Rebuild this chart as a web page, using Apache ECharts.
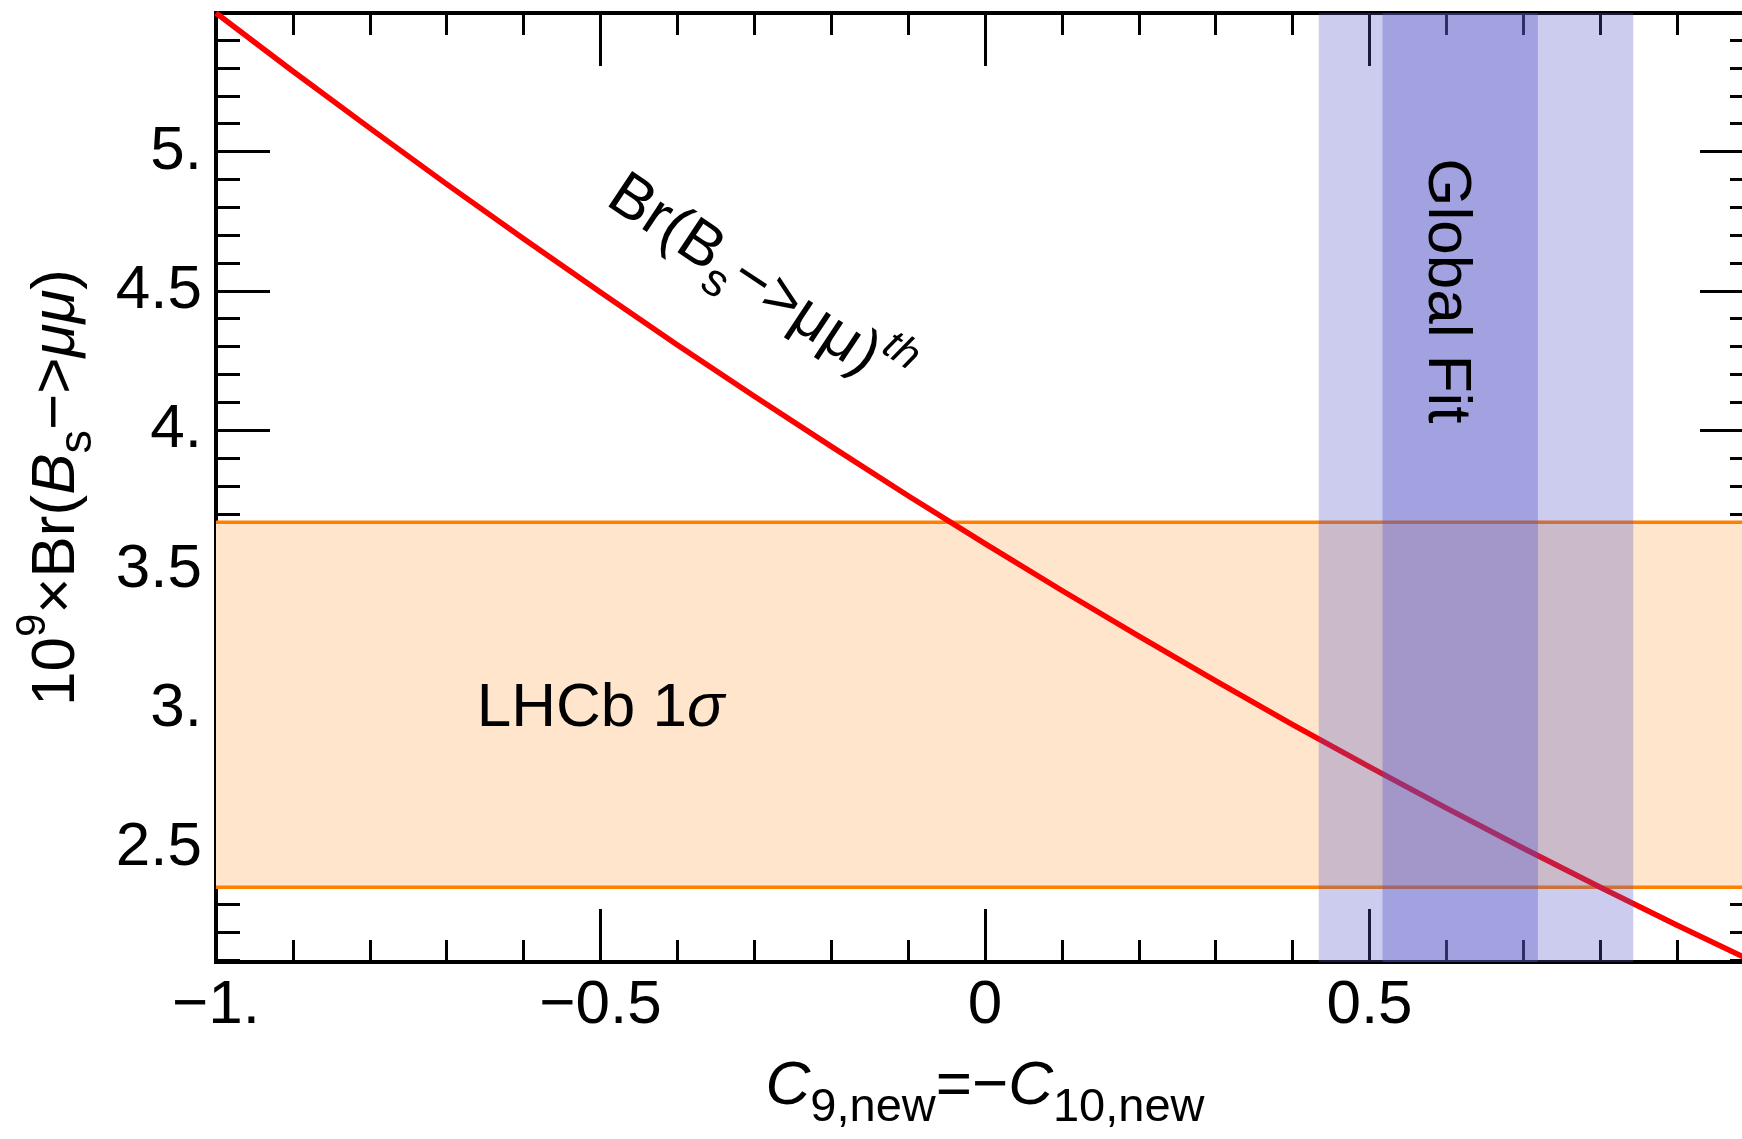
<!DOCTYPE html>
<html>
<head>
<meta charset="utf-8">
<script src="https://cdn.jsdelivr.net/npm/echarts@6/dist/echarts.min.js"></script>
<style>
  html, body { margin: 0; padding: 0; background: #ffffff; }
  #chart { width: 1742px; height: 1139px; }
</style>
</head>
<body>
<div id="chart"></div>
<script>
// New-physics scan along C9,new = -C10,new
const c9New = [-1, -0.9, -0.8, -0.7, -0.6, -0.5, -0.4, -0.3, -0.2, -0.1, 0,
               0.1, 0.2, 0.3, 0.4, 0.5, 0.6, 0.7, 0.8, 0.9, 1];
// 10^9 x Br(Bs -> mu mu), theory prediction
const brTheory = [5.497, 5.288, 5.084, 4.883, 4.687, 4.495, 4.306, 4.122, 3.942, 3.765, 3.593,
                  3.425, 3.261, 3.101, 2.944, 2.792, 2.644, 2.500, 2.360, 2.224, 2.092];
// LHCb 1 sigma measurement band (10^9 x Br)
const lhcbBand = [2.36, 3.67];
// Global fit intervals in C9,new = -C10,new
const globalFitOuter = [0.434, 0.843];
const globalFitInner = [0.517, 0.719];

// Tick positions and labels
const xMajorTicks = [-1, -0.5, 0, 0.5, 1];
const xMinorTicks = [-0.9, -0.8, -0.7, -0.6, -0.4, -0.3, -0.2, -0.1,
                     0.1, 0.2, 0.3, 0.4, 0.6, 0.7, 0.8, 0.9];
const xLabelValues = [-1, -0.5, 0, 0.5];
const xTickLabels = ['\u22121.', '\u22120.5', '0', '0.5'];
const yMajorTicks = [2.5, 3, 3.5, 4, 4.5, 5];
const yMinorTicks = [2.1, 2.2, 2.3, 2.4, 2.6, 2.7, 2.8, 2.9, 3.1, 3.2, 3.3, 3.4,
                     3.6, 3.7, 3.8, 3.9, 4.1, 4.2, 4.3, 4.4, 4.6, 4.7, 4.8, 4.9,
                     5.1, 5.2, 5.3, 5.4];
const yTickLabels = ['2.5', '3.', '3.5', '4.', '4.5', '5.'];

const X_MIN = -1, X_MAX = 1;
const Y_MIN = 2.092, Y_MAX = 5.497;

const FONT = '"Liberation Sans", Arial, Helvetica, sans-serif';
const INK = '#000000';

function lookupLabel(values, labels) {
  return function (v) {
    const i = values.findIndex(t => Math.abs(t - v) < 1e-9);
    return i >= 0 ? labels[i] : '';
  };
}

// Rich text styles shared by axis titles
const titleRich = {
  n:   { fontFamily: FONT, fontSize: 62, lineHeight: 90, color: INK },
  i:   { fontFamily: FONT, fontSize: 62, lineHeight: 90, fontStyle: 'italic', color: INK },
  sub: { fontFamily: FONT, fontSize: 47, lineHeight: 44, verticalAlign: 'bottom', color: INK },
  sup: { fontFamily: FONT, fontSize: 42, lineHeight: 34, verticalAlign: 'top', color: INK }
};

function frameAxis(dim, position, kind, extra) {
  const isX = dim === 'x';
  const major = kind === 'major';
  const ticks = isX ? (major ? xMajorTicks : xMinorTicks) : (major ? yMajorTicks : yMinorTicks);
  const len = isX ? (major ? 53 : 22) : (major ? 54 : 24);
  return Object.assign({
    type: 'value',
    gridIndex: 0,
    position: position,
    min: isX ? X_MIN : Y_MIN,
    max: isX ? X_MAX : Y_MAX,
    splitLine: { show: false },
    axisLine: { show: major, onZero: false, lineStyle: { color: INK, width: 4, cap: 'square' } },
    axisTick: {
      show: true, inside: true, length: len, customValues: ticks,
      lineStyle: { color: INK, width: 3 }
    },
    minorTick: { show: false },
    axisLabel: { show: false },
    axisPointer: { show: false }
  }, extra || {});
}

const chart = echarts.init(document.getElementById('chart'), null, { renderer: 'canvas' });

const option = {
  animation: false,
  backgroundColor: '#ffffff',
  grid: {
    left: 216, top: 13, width: 1538, height: 949,
    containLabel: false, outerBoundsMode: 'none', show: false
  },
  xAxis: [
    frameAxis('x', 'bottom', 'major', {
      axisLabel: {
        show: true, customValues: xLabelValues, margin: 13,
        formatter: lookupLabel(xLabelValues, xTickLabels),
        fontFamily: FONT, fontSize: 62, color: INK
      },
      name: '{i|C}{sub|9,new}{n|=\u2212}{i|C}{sub|10,new}',
      nameLocation: 'middle', nameGap: 80, nameMoveOverlap: false,
      nameTextStyle: { rich: titleRich, color: INK, fontFamily: FONT, fontSize: 62 }
    }),
    frameAxis('x', 'bottom', 'minor'),
    frameAxis('x', 'top', 'major'),
    frameAxis('x', 'top', 'minor')
  ],
  yAxis: [
    frameAxis('y', 'left', 'major', {
      axisLabel: {
        show: true, customValues: yMajorTicks, margin: 14,
        formatter: lookupLabel(yMajorTicks, yTickLabels),
        fontFamily: FONT, fontSize: 62, color: INK
      },
      name: '{n|10}{sup|9}{n|\u00d7Br(}{i|B}{sub|s}{n|\u2212>}{i|\u03bc\u03bc}{n|)}',
      nameLocation: 'middle', nameRotate: 90, nameGap: 114, nameMoveOverlap: false,
      nameTextStyle: { rich: titleRich, color: INK, fontFamily: FONT, fontSize: 62 }
    }),
    frameAxis('y', 'left', 'minor'),
    frameAxis('y', 'right', 'major'),
    frameAxis('y', 'right', 'minor')
  ],
  series: [
    {
      // LHCb band: filled strip with its two edges
      type: 'custom',
      name: 'LHCb 1σ',
      xAxisIndex: 0, yAxisIndex: 0,
      z: 1,
      data: [lhcbBand],
      encode: { y: [0, 1] },
      renderItem: function (params, api) {
        const cs = params.coordSys;
        const yLo = api.coord([X_MIN, api.value(0)])[1];
        const yHi = api.coord([X_MIN, api.value(1)])[1];
        const edge = { stroke: '#FF7F00', lineWidth: 3.5 };
        return {
          type: 'group',
          children: [
            { type: 'rect', shape: { x: cs.x, y: yHi, width: cs.width, height: yLo - yHi },
              style: { fill: '#FEE5CC' } },
            { type: 'line', shape: { x1: cs.x, y1: yHi, x2: cs.x + cs.width, y2: yHi }, style: edge },
            { type: 'line', shape: { x1: cs.x, y1: yLo, x2: cs.x + cs.width, y2: yLo }, style: edge }
          ]
        };
      }
    },
    {
      type: 'line',
      name: 'Br(Bs->μμ)th',
      xAxisIndex: 0, yAxisIndex: 0,
      z: 2,
      data: c9New.map((x, i) => [x, brTheory[i]]),
      symbol: 'none',
      smooth: false,
      clip: true,
      lineStyle: { color: '#FF0000', width: 5.5, join: 'round' }
    },
    {
      // Global fit intervals drawn over everything else
      type: 'custom',
      name: 'Global Fit',
      xAxisIndex: 0, yAxisIndex: 0,
      z: 3,
      data: [globalFitOuter, globalFitInner],
      encode: { x: [0, 1] },
      renderItem: function (params, api) {
        const cs = params.coordSys;
        const x0 = api.coord([api.value(0), Y_MIN])[0];
        const x1 = api.coord([api.value(1), Y_MIN])[0];
        const alpha = params.dataIndex === 0 ? 0.3 : 0.345;
        return {
          type: 'rect',
          shape: { x: x0, y: cs.y, width: x1 - x0, height: cs.height },
          style: { fill: 'rgba(85,85,198,' + alpha + ')' }
        };
      }
    }
  ]
};

chart.setOption(option);

// Text annotations anchored in data coordinates
function at(x, y) {
  return chart.convertToPixel({ xAxisIndex: 0, yAxisIndex: 0 }, [x, y]);
}
const annRich = {
  n:   { fontFamily: FONT, fontSize: 62, lineHeight: 90, fill: INK },
  i:   { fontFamily: FONT, fontSize: 62, lineHeight: 90, fontStyle: 'italic', fill: INK },
  sub: { fontFamily: FONT, fontSize: 46, lineHeight: 46, verticalAlign: 'bottom', fill: INK },
  sup: { fontFamily: FONT, fontSize: 42, lineHeight: 34, verticalAlign: 'top', fontStyle: 'italic', fill: INK }
};
const pCurve = at(-0.295, 4.52);
const pLhcb = at(-0.5, 3.0);
const pFit = at(0.6, 4.5);

chart.setOption({
  graphic: [
    {
      type: 'text', x: pCurve[0], y: pCurve[1], rotation: -33.6 * Math.PI / 180, z: 10,
      style: {
        text: '{n|Br(B}{sub|s}{n|\u2212>\u03bc\u03bc)}{sup|th}',
        rich: annRich, align: 'center', verticalAlign: 'middle', fill: INK
      }
    },
    {
      type: 'text', x: pLhcb[0], y: pLhcb[1], z: 10,
      style: {
        text: '{n|LHCb 1}{i|\u03c3}',
        rich: annRich, align: 'center', verticalAlign: 'middle', fill: INK
      }
    },
    {
      type: 'text', x: pFit[0], y: pFit[1], rotation: -Math.PI / 2, z: 10,
      style: {
        text: 'Global Fit', font: '62px ' + FONT,
        align: 'center', verticalAlign: 'middle', fill: INK
      }
    }
  ]
});
</script>
</body>
</html>
